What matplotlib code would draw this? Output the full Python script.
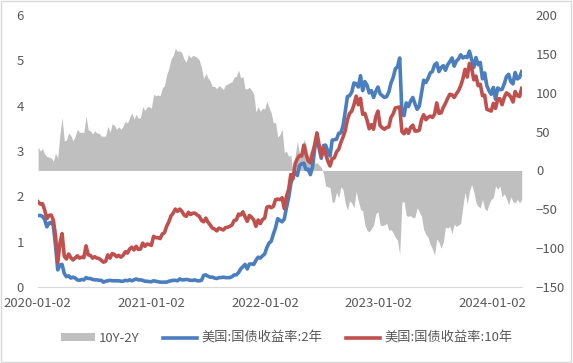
import matplotlib
matplotlib.use("Agg")
import matplotlib.pyplot as plt
from matplotlib.patches import Rectangle
import numpy as np
import pandas as pd

plt.rcParams['font.family'] = ['Noto Sans CJK SC', 'DejaVu Sans']

# weekly (Friday) readings, 2020-01-03 .. 2024-04-05
# US Treasury 2Y yield, %
y2 = [
    # 2020
    1.58, 1.58, 1.56, 1.49, 1.33,
    1.41, 1.43, 1.35, 0.91,
    0.38, 0.49, 0.50, 0.30,
    0.23, 0.25, 0.20, 0.22,
    0.20, 0.16, 0.15, 0.17, 0.16,
    0.21, 0.19, 0.19, 0.17,
    0.16, 0.16, 0.15, 0.15, 0.11,
    0.13, 0.14, 0.15, 0.14,
    0.14, 0.14, 0.14, 0.13,
    0.13, 0.15, 0.14, 0.16, 0.14,
    0.16, 0.18, 0.16, 0.16,
    0.15, 0.13, 0.13, 0.12,
    # 2021
    0.12, 0.14, 0.13, 0.12, 0.11,
    0.11, 0.11, 0.11, 0.13,
    0.14, 0.15, 0.15, 0.14,
    0.18, 0.16, 0.16, 0.17, 0.16,
    0.15, 0.15, 0.16, 0.14,
    0.14, 0.15, 0.26, 0.27,
    0.24, 0.22, 0.22, 0.20, 0.19,
    0.21, 0.21, 0.22, 0.21,
    0.21, 0.21, 0.23, 0.27,
    0.27, 0.32, 0.40, 0.45, 0.50,
    0.40, 0.51, 0.51, 0.50,
    0.59, 0.66, 0.64, 0.69, 0.73,
    # 2022
    0.87, 0.97, 1.01, 1.17,
    1.31, 1.51, 1.47, 1.44,
    1.50, 1.75, 1.97, 2.28,
    2.44, 2.53, 2.46, 2.68, 2.72,
    2.73, 2.59, 2.60, 2.48,
    2.66, 3.06, 3.30, 3.06,
    2.84, 3.12, 3.13, 2.99, 2.89,
    3.24, 3.25, 3.26, 3.39,
    3.40, 3.56, 3.87, 4.20, 4.22,
    4.30, 4.50, 4.48, 4.41,
    4.66, 4.33, 4.53, 4.45,
    4.28, 4.33, 4.18, 4.31, 4.41,
    # 2023
    4.26, 4.22, 4.18, 4.20,
    4.30, 4.50, 4.62, 4.81,
    4.86, 5.05, 3.84, 3.78, 4.06,
    3.98, 4.10, 4.18, 4.04,
    3.92, 3.99, 4.28, 4.56,
    4.51, 4.60, 4.72, 4.75, 4.90,
    4.94, 4.75, 4.84, 4.88,
    4.78, 4.90, 4.97, 5.05,
    4.87, 4.98, 5.03, 5.12, 5.05,
    5.08, 5.06, 5.20, 5.02,
    4.84, 5.06, 4.90, 4.95,
    4.59, 4.72, 4.44, 4.33, 4.25,
    # 2024
    4.40, 4.14, 4.39, 4.35,
    4.36, 4.48, 4.64, 4.69,
    4.53, 4.48, 4.73, 4.59, 4.62,
    4.75,
]

# US Treasury 10Y yield, %
y10 = [
    # 2020
    1.88, 1.83, 1.84, 1.70, 1.51,
    1.58, 1.59, 1.47, 1.13,
    0.54, 0.96, 1.18, 0.68,
    0.62, 0.73, 0.65, 0.60,
    0.64, 0.69, 0.64, 0.66, 0.65,
    0.91, 0.71, 0.70, 0.64,
    0.67, 0.64, 0.63, 0.59, 0.55,
    0.57, 0.71, 0.64, 0.74,
    0.72, 0.67, 0.70, 0.66,
    0.70, 0.78, 0.75, 0.84, 0.88,
    0.82, 0.90, 0.83, 0.84,
    0.97, 0.90, 0.95, 0.94,
    # 2021
    0.92, 1.12, 1.09, 1.09, 1.07,
    1.17, 1.20, 1.34, 1.44,
    1.57, 1.63, 1.72, 1.67,
    1.72, 1.67, 1.59, 1.56, 1.65,
    1.60, 1.63, 1.63, 1.59,
    1.56, 1.47, 1.44, 1.52,
    1.43, 1.37, 1.30, 1.28, 1.24,
    1.30, 1.28, 1.26, 1.31,
    1.32, 1.34, 1.37, 1.47,
    1.48, 1.61, 1.59, 1.66, 1.55,
    1.45, 1.58, 1.54, 1.48,
    1.34, 1.48, 1.40, 1.49, 1.52,
    # 2022
    1.76, 1.78, 1.75, 1.78,
    1.93, 1.94, 1.93, 1.97,
    1.73, 2.00, 2.15, 2.48,
    2.39, 2.72, 2.83, 2.90, 2.89,
    3.13, 2.93, 2.78, 2.74,
    2.94, 3.15, 3.40, 3.13,
    2.88, 3.08, 2.93, 2.78, 2.67,
    2.83, 2.85, 2.98, 3.04,
    3.19, 3.31, 3.45, 3.69, 3.83,
    3.88, 4.02, 4.21, 4.02,
    4.16, 3.81, 3.83, 3.68,
    3.49, 3.58, 3.48, 3.75, 3.88,
    # 2023
    3.56, 3.51, 3.48, 3.52,
    3.53, 3.74, 3.82, 3.95,
    3.96, 3.97, 3.43, 3.38, 3.48,
    3.39, 3.52, 3.57, 3.44,
    3.44, 3.46, 3.69, 3.80,
    3.69, 3.74, 3.77, 3.74, 3.81,
    4.06, 3.83, 3.84, 3.96,
    4.05, 4.16, 4.25, 4.24,
    4.18, 4.26, 4.33, 4.44, 4.59,
    4.80, 4.63, 4.93, 4.84,
    4.57, 4.65, 4.44, 4.47,
    4.22, 4.23, 3.92, 3.90, 3.88,
    # 2024
    4.05, 3.94, 4.15, 4.15,
    4.02, 4.18, 4.28, 4.25,
    4.19, 4.08, 4.31, 4.22, 4.20,
    4.38,
]

tick_labels = ["2020-01-02", "2021-01-02", "2022-01-02", "2023-01-02", "2024-01-02"]

dates = pd.date_range("2020-01-03", periods=len(y2), freq="W-FRI")
spread = (np.array(y10) - np.array(y2)) * 100  # bp

gray = "#BFBFBF"
blue = "#4A7EBF"
red = "#C0504D"
txt = "#595959"

fig = plt.figure(figsize=(5.73, 3.63), dpi=100)
ax = fig.add_axes([0.066, 0.209, 0.845, 0.75])
ax2 = ax.twinx()

# spread area on the right-hand axis, drawn underneath the lines
ax.fill_between(dates, spread, 0, color=gray, lw=0, label="10Y-2Y")
ax.set_ylim(-150, 200)
ax.set_yticks(range(-150, 201, 50))
ax.yaxis.tick_right()
ax.yaxis.set_label_position("right")

ax2.plot(dates, y2, color=blue, lw=2.6, label="美国:国债收益率:2年")
ax2.plot(dates, y10, color=red, lw=2.6, label="美国:国债收益率:10年")
ax2.set_ylim(0, 6)
ax2.set_yticks(range(0, 7))
ax2.yaxis.tick_left()
ax2.yaxis.set_label_position("left")

ax.set_xlim(pd.Timestamp("2020-01-02"), pd.Timestamp("2024-04-06"))
ax.set_xticks([pd.Timestamp(t) for t in tick_labels])
ax.set_xticklabels(tick_labels)

for a in (ax, ax2):
    for s in a.spines.values():
        s.set_visible(False)
    a.tick_params(length=0, labelsize=9.5, labelcolor=txt)
ax.spines["bottom"].set_visible(True)
ax.spines["bottom"].set_color("#D9D9D9")
ax.tick_params(axis="y", pad=10)
ax2.tick_params(axis="y", pad=10)
ax.tick_params(axis="x", pad=7)

h1, l1 = ax.get_legend_handles_labels()
h2, l2 = ax2.get_legend_handles_labels()
fig.legend(h1 + h2, l1 + l2, loc="center", bbox_to_anchor=(0.5, 0.068), ncol=3,
           frameon=False, fontsize=9.5, labelcolor=txt, handlelength=2.6,
           handleheight=0.5, columnspacing=1.8, handletextpad=0.3)

fig.add_artist(Rectangle((0.002, 0.003), 0.995, 0.993, transform=fig.transFigure,
                         fill=False, edgecolor="#D9D9D9", lw=1))

fig.savefig("out.png", dpi=100)
